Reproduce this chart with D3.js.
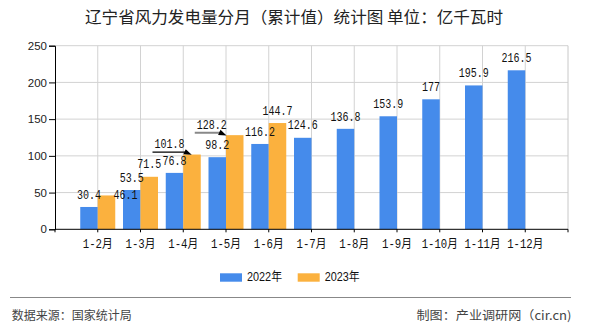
<!DOCTYPE html>
<html>
<head>
<meta charset="utf-8">
<script src="https://cdn.jsdelivr.net/npm/d3@7"></script>
<style>
  html, body { margin: 0; padding: 0; background: #fff; }
  svg { display: block; }
</style>
</head>
<body>
<svg id="chart" width="590" height="330"></svg>
<script>
// ---- data ----
const categories = ["1-2月","1-3月","1-4月","1-5月","1-6月","1-7月","1-8月","1-9月","1-10月","1-11月","1-12月"];
const values2022 = [30.4, 53.5, 76.8, 98.2, 116.2, 124.6, 136.8, 153.9, 177, 195.9, 216.5];
const values2023 = [46.1, 71.5, 101.8, 128.2, 144.7, null, null, null, null, null, null];
const seriesNames = ["2022年", "2023年"];
const yTicks = [0, 50, 100, 150, 200, 250];
const titleText = "辽宁省风力发电量分月（累计值）统计图 单位：亿千瓦时";
const sourceText = "数据来源：国家统计局";
const creditText = "制图：产业调研网（cir.cn)";

// ---- layout / style ----
const colors = ["#458BEB", "#FBB13E"];
const plotL = 55, plotR = 568, plotT = 45.7, plotB = 229.3;
const barW = 17.5;
const monoFont = "'Liberation Mono','Noto Sans CJK SC',monospace";
const sansFont = "'Liberation Sans','Noto Sans CJK SC',sans-serif";

// label placement tweaks (collision handling as in the original)
const labelAdjust = {
  1: {
    0: { dx: 19, dy: 12 },
    2: { dx: -22.5, dy: 1.5, leader: "#000", lw: 1.2, tipDx: 8.5 },
    3: { dx: -23, dy: 2.5, leader: "#888", lw: 2, tipDx: 0.5 }
  }
};

function halfWidth(s) {
  let w = 0;
  for (const ch of s) w += (ch.charCodeAt(0) > 255) ? 1 : 0.5;
  return w;
}

const svg = d3.select("#chart");
const step = (plotR - plotL) / (categories.length + 1);
const x = d3.scaleBand().domain(categories).range([plotL + step / 2, plotR - step / 2]).padding(0);
const cx = c => x(c) + x.bandwidth() / 2;
const y = d3.scaleLinear().domain([0, 250]).range([plotB, plotT]);

// gridlines
const grid = svg.append("g");
grid.selectAll("line.h").data(yTicks.filter(t => t > 0)).enter().append("line")
  .attr("x1", plotL).attr("x2", plotR)
  .attr("y1", d => y(d)).attr("y2", d => y(d))
  .attr("stroke", "#d2d2d2").attr("stroke-width", 1);
grid.selectAll("line.v").data(categories).enter().append("line")
  .attr("x1", d => cx(d)).attr("x2", d => cx(d))
  .attr("y1", plotT).attr("y2", plotB)
  .attr("stroke", "#d2d2d2").attr("stroke-width", 1);
grid.append("line").attr("x1", plotR).attr("x2", plotR).attr("y1", plotT).attr("y2", plotB)
  .attr("stroke", "#c8c8c8");

// bars
const series = [values2022, values2023];
series.forEach((vals, si) => {
  svg.append("g").selectAll("rect").data(categories.map((c, i) => ({ c, v: vals[i] })).filter(d => d.v != null))
    .enter().append("rect")
    .attr("x", d => cx(d.c) - barW + si * barW)
    .attr("y", d => y(d.v))
    .attr("width", barW)
    .attr("height", d => y(0) - y(d.v))
    .attr("fill", colors[si]);
});

// y axis
const yAxis = d3.axisLeft(y).tickValues(yTicks).tickSize(6).tickPadding(2);
const gy = svg.append("g").attr("transform", `translate(${plotL},0)`).call(yAxis);
gy.select(".domain").attr("stroke", "#000");
gy.selectAll(".tick line").attr("stroke", "#000");
gy.selectAll(".tick text").attr("font-family", sansFont).attr("font-size", 11.5).attr("fill", "#222");

// x axis
const xAxis = d3.axisBottom(x).tickSize(3).tickPadding(4).tickSizeOuter(3);
const gx = svg.append("g").attr("transform", `translate(0,${plotB})`).call(xAxis);
gx.select(".domain").attr("stroke", "#000").attr("d", `M${plotL},3V0H${plotR}V3`);
gx.selectAll(".tick line").attr("stroke", "#000");
gx.selectAll(".tick text")
  .attr("font-family", monoFont).attr("font-size", 12).attr("fill", "#111")
  .attr("dy", "0.95em")
  .attr("textLength", d => halfWidth(d) * 12).attr("lengthAdjust", "spacingAndGlyphs");

// value labels
const labelG = svg.append("g");
series.forEach((vals, si) => {
  vals.forEach((v, i) => {
    if (v == null) return;
    const c = categories[i];
    const barX = cx(c) - barW + si * barW;
    const adj = (labelAdjust[si] && labelAdjust[si][i]) || { dx: 0, dy: 0 };
    const lx = barX + barW / 2 + adj.dx;
    const ly = y(v) - 12.5 + adj.dy;
    const s = String(v);
    labelG.append("text")
      .attr("x", lx).attr("y", ly + 4.2)
      .attr("text-anchor", "middle")
      .attr("font-family", monoFont).attr("font-size", 12).attr("fill", "#111")
      .attr("textLength", s.length * 6).attr("lengthAdjust", "spacingAndGlyphs")
      .text(s);
    if (adj.leader) {
      const tipX = barX + adj.tipDx, tipY = y(v) + 0.3;
      const lineY = tipY - 2.7;
      labelG.append("line")
        .attr("x1", lx - 17).attr("x2", tipX - 6)
        .attr("y1", lineY).attr("y2", lineY)
        .attr("stroke", adj.leader).attr("stroke-width", adj.lw);
      labelG.append("path")
        .attr("d", `M${tipX},${tipY}L${tipX - 6},${tipY - 5.7}L${tipX - 8.4},${tipY - 0.5}Z`)
        .attr("fill", "#000");
    }
  });
});

// title
svg.append("text")
  .attr("x", 294).attr("y", 23)
  .attr("text-anchor", "middle")
  .attr("font-family", "'Noto Sans CJK SC',sans-serif").attr("font-size", 16).attr("fill", "#222")
  .attr("textLength", 418).attr("lengthAdjust", "spacingAndGlyphs")
  .text(titleText);

// legend
const legendX = [220, 297.7];
seriesNames.forEach((n, i) => {
  svg.append("rect").attr("x", legendX[i]).attr("y", 273.3).attr("width", 22).attr("height", 8.4).attr("fill", colors[i]);
  svg.append("text").attr("x", legendX[i] + 27).attr("y", 281.2)
    .attr("font-family", sansFont).attr("font-size", 12).attr("fill", "#111")
    .attr("textLength", 35).attr("lengthAdjust", "spacingAndGlyphs")
    .text(n);
});

// footer
svg.append("line").attr("x1", 10).attr("x2", 571).attr("y1", 297.5).attr("y2", 297.5)
  .attr("stroke", "#888").attr("stroke-width", 1.2);
svg.append("text").attr("x", 11.7).attr("y", 320)
  .attr("font-family", "'Noto Sans CJK SC',sans-serif").attr("font-size", 12).attr("fill", "#444")
  .attr("textLength", 120).attr("lengthAdjust", "spacingAndGlyphs")
  .text(sourceText);
svg.append("text").attr("x", 571.5).attr("y", 320)
  .attr("text-anchor", "end")
  .attr("font-family", "'Noto Sans CJK SC',sans-serif").attr("font-size", 12).attr("fill", "#444")
  .attr("textLength", 155).attr("lengthAdjust", "spacingAndGlyphs")
  .text(creditText);
</script>
</body>
</html>
